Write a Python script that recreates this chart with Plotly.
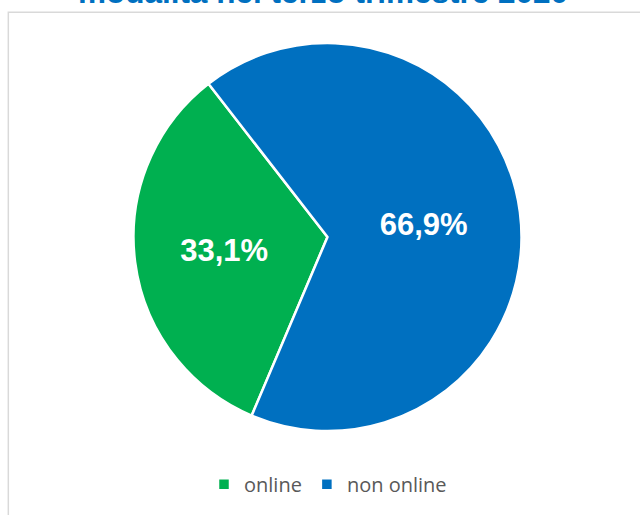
import plotly.graph_objects as go

title_text = "modalità nel terzo trimestre 2020"
labels = ["online", "non online"]
values = [33.1, 66.9]
colors = ["#00B050", "#0070C0"]

W, H = 640, 515
ml, mr, mt, mb = 132.5, 117.5, 42.5, 82.5
pw, ph = W - ml - mr, H - mt - mb

def px_x(x):
    return (x - ml) / pw

def px_y(y):
    return (H - mb - y) / ph

fig = go.Figure(go.Pie(
    labels=labels,
    values=values,
    sort=False,
    direction="clockwise",
    rotation=203,
    marker=dict(colors=colors, line=dict(color="white", width=2.5)),
    texttemplate="%{percent:.1%}",
    textposition="inside",
    insidetextorientation="horizontal",
    textfont=dict(family="Liberation Sans", size=31, color="white", weight="bold"),
    hoverinfo="label+percent",
))

fig.update_layout(
    width=W, height=H,
    separators=",.",
    margin=dict(l=ml, r=mr, t=mt, b=mb, pad=0),
    paper_bgcolor="white",
    plot_bgcolor="white",
    title=dict(
        text="<b>" + title_text + "</b>",
        x=(78 + 568) / 2 / W, xanchor="center",
        y=(H - 3) / H, yref="container", yanchor="bottom",
        font=dict(family="Liberation Sans", size=31.5, color="#0070C0"),
    ),
    showlegend=True,
    legend=dict(
        orientation="h",
        x=px_x(328), xanchor="center",
        y=px_y(485), yanchor="middle",
        font=dict(family="Open Sans", size=20, color="#595959"),
        traceorder="normal",
    ),
    shapes=[dict(
        type="rect", xref="paper", yref="paper",
        x0=px_x(7.5), x1=px_x(660), y0=px_y(540), y1=px_y(11.5),
        line=dict(color="#D9D9D9", width=1.5),
        fillcolor="rgba(0,0,0,0)",
        layer="below",
    )],
)

fig.write_html(
    "out.html",
    config={"displayModeBar": False},
    post_script="document.body.style.margin='0px';",
)
